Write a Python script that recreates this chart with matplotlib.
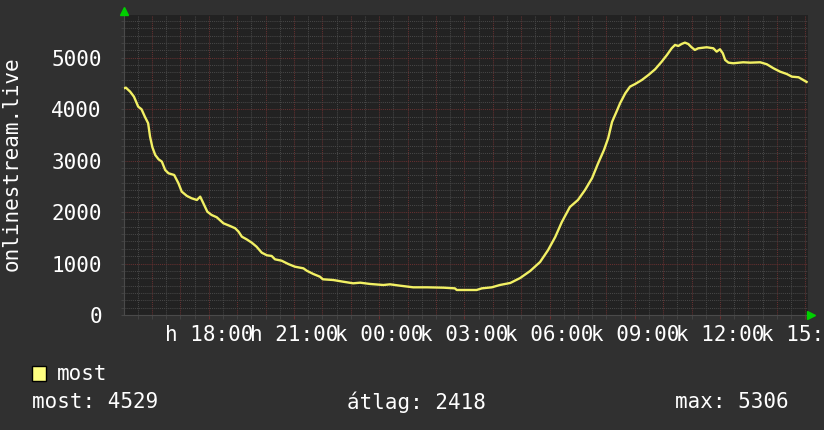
import matplotlib
matplotlib.use("Agg")
import matplotlib.pyplot as plt
from matplotlib.ticker import MultipleLocator, FixedLocator

# minutes since 15:00 on the first day
minutes = [3, 5, 14, 22, 31, 38, 45, 52, 56, 61, 67, 74, 81, 88, 95, 107, 116, 123,
           134, 144, 155, 162, 167, 177, 186, 197, 211, 225, 236, 243, 250, 260,
           271, 281, 292, 303, 313, 320, 334, 348, 362, 380, 387, 401, 415, 421,
           443, 464, 485, 500, 521, 549, 563, 584, 612, 641, 676, 700, 704, 725,
           746, 757, 778, 795, 817, 838, 859, 880, 897, 912, 926, 943, 960, 975,
           990, 1002, 1015, 1024, 1032, 1043, 1049, 1060, 1070, 1081, 1095, 1109,
           1123, 1137, 1148, 1158, 1165, 1172, 1179, 1186, 1193, 1200, 1207, 1214,
           1232, 1246, 1253, 1260, 1266, 1271, 1278, 1288, 1309, 1324, 1345, 1359,
           1373, 1387, 1401, 1412, 1426, 1436, 1443]
viewers = [4412, 4418, 4340, 4243, 4049, 3998, 3855, 3726, 3466, 3259, 3110, 3026,
           2980, 2818, 2754, 2721, 2560, 2397, 2313, 2268, 2235, 2300, 2203, 2008,
           1944, 1899, 1782, 1730, 1685, 1619, 1522, 1471, 1405, 1328, 1211, 1160,
           1147, 1082, 1055, 991, 939, 907, 861, 797, 744, 694, 680, 647, 616, 628,
           603, 583, 596, 570, 538, 538, 531, 518, 486, 486, 486, 518, 538, 583,
           622, 719, 855, 1030, 1263, 1516, 1808, 2099, 2235, 2430, 2663, 2935,
           3207, 3440, 3751, 3984, 4115, 4309, 4438, 4490, 4567, 4665, 4775, 4924,
           5053, 5183, 5248, 5228, 5267, 5293, 5267, 5203, 5151, 5183, 5203, 5183,
           5118, 5164, 5086, 4956, 4904, 4892, 4911, 4904, 4911, 4873, 4795, 4729,
           4684, 4632, 4620, 4567, 4529]

tick_minutes = [180, 360, 540, 720, 900, 1080, 1260, 1440]
tick_labels = ["h 18:00", "h 21:00", "k 00:00", "k 03:00", "k 06:00",
               "k 09:00", "k 12:00", "k 15:00"]
y_ticks = [0, 1000, 2000, 3000, 4000, 5000]

series_name = "most"
stats = [("most", 4529), ("átlag", 2418), ("max", 5306)]
axis_title = "onlinestream.live"

BG = "#303030"
PLOT_BG = "#222222"
RED_GRID = "#663030"
GREY_GRID = "#464646"
LINE = "#f2f064"
FONT = "DejaVu Sans Mono"
FS = 15

fig = plt.figure(figsize=(8.24, 4.30), dpi=100, facecolor=BG)
ax = fig.add_axes([124 / 824, 115 / 430, 684 / 824, 300 / 430])
ax.set_facecolor(PLOT_BG)

ax.set_xlim(1, 1446)
ax.set_ylim(0, 5830)

# grid: hourly red / half-hourly grey, red every 1000 / grey in between
dotted = (0, (1, 1))
for m in range(30, 1446, 30):
    col = RED_GRID if m % 60 == 0 else GREY_GRID
    ax.axvline(m, color=col, lw=0.75, ls=dotted, zorder=1)
for i in range(1, 41):
    v = i * 1000 / 7
    if v > 5830:
        break
    col = RED_GRID if i % 7 == 0 else GREY_GRID
    ax.axhline(v, color=col, lw=0.75, ls=dotted, zorder=1)

ax.plot(minutes, viewers, color=LINE, lw=1.7, zorder=3)

ax.xaxis.set_major_locator(FixedLocator(tick_minutes))
ax.set_xticklabels(tick_labels)
ax.xaxis.set_minor_locator(MultipleLocator(30))
ax.set_yticks(y_ticks)
ax.yaxis.set_minor_locator(MultipleLocator(1000 / 7))

for lab in ax.get_xticklabels() + ax.get_yticklabels():
    lab.set_fontfamily(FONT)
    lab.set_fontsize(FS)
    lab.set_color("white")

ax.tick_params(axis="x", which="major", length=3, color=RED_GRID, pad=4,
               direction="out")
ax.tick_params(axis="x", which="minor", length=3, color=GREY_GRID,
               direction="out")
ax.tick_params(axis="y", which="both", length=2, color=GREY_GRID, pad=14,
               direction="out")

for s in ["top", "right"]:
    ax.spines[s].set_visible(False)
for s in ["bottom", "left"]:
    ax.spines[s].set_color("#4a4a4a")
    ax.spines[s].set_linewidth(0.8)

# green axis arrows
ax.plot([0], [1.013], marker="^", color="#00d000", ms=6, clip_on=False,
        transform=ax.transAxes, zorder=5)
ax.plot([1.005], [0], marker=">", color="#00d000", ms=6, clip_on=False,
        transform=ax.transAxes, zorder=5)

fig.text(12 / 824, 1 - 164 / 430, axis_title, rotation=90, ha="center",
         va="center", color="white", fontsize=FS, family=FONT)

# legend
fig.patches.append(plt.Rectangle((32 / 824, 1 - 381 / 430), 14 / 824, 15 / 430,
                                 transform=fig.transFigure, facecolor="#ffff80",
                                 edgecolor="black", lw=1))
fig.text(57 / 824, 1 - 374 / 430, series_name, ha="left", va="center",
         color="white", fontsize=FS, family=FONT)

stat_x = [32, 347, 675]
for (name, val), x in zip(stats, stat_x):
    fig.text(x / 824, 1 - 402 / 430, f"{name}: {val}", ha="left", va="center",
             color="white", fontsize=FS, family=FONT)

fig.savefig("out.png", dpi=100, facecolor=BG)
